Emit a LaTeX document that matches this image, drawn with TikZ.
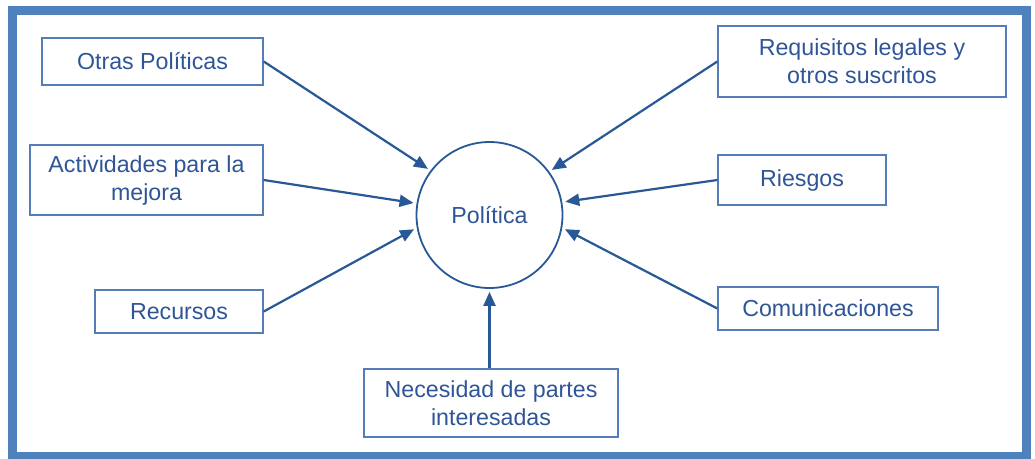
\documentclass[tikz,border=0pt]{standalone}
\usepackage{fontspec}
\setmainfont{Liberation Sans}
\usetikzlibrary{arrows.meta}
\definecolor{frameblue}{RGB}{79,129,189}
\definecolor{boxblue}{RGB}{84,124,182}
\definecolor{txtblue}{RGB}{47,85,151}
\definecolor{arrblue}{RGB}{40,88,150}
\tikzset{
  box/.style={draw=boxblue, line width=1.4pt, rectangle, inner sep=0pt, align=center,
    text=txtblue, font=\fontsize{23.2}{28}\selectfont},
  polnode/.style={draw=arrblue, line width=1.8pt, circle, minimum size=146pt, inner sep=0pt,
    text=txtblue, font=\fontsize{23.2}{28}\selectfont},
  conn/.style={draw=arrblue, line width=2.2pt, -{Triangle[length=14pt,width=12pt]}, shorten >=3pt}
}
\begin{document}
\begin{tikzpicture}[x=1pt,y=-1pt]
\useasboundingbox (0,0) rectangle (1035,458);
\draw[frameblue, line width=9pt] (12.5,10.5) rectangle (1026.5,456);
\node[polnode] (pol) at (489.5,215) {Política};
\node[box, minimum width=221pt, minimum height=47pt] (otras) at (152.5,61.5) {Otras Políticas};
\node[box, minimum width=233pt, minimum height=70pt] (act) at (146.5,180) {Actividades para la\\mejora};
\node[box, minimum width=168pt, minimum height=43pt] (rec) at (179,311.5) {Recursos};
\node[box, minimum width=288pt, minimum height=71pt] (req) at (862,61.5) {Requisitos legales y\\otros suscritos};
\node[box, minimum width=168pt, minimum height=50pt] (ries) at (802,180) {Riesgos};
\node[box, minimum width=220pt, minimum height=43pt] (com) at (828,308.5) {Comunicaciones};
\node[box, minimum width=254pt, minimum height=68pt] (nec) at (491,403) {Necesidad de partes\\interesadas};
\draw[conn] (otras.east) -- (pol.143);
\draw[conn] (act.east) -- (pol.171);
\draw[conn] (rec.east) -- (pol.190);
\draw[conn] (req.west) -- (pol.36);
\draw[conn] (ries.west) -- (pol.10);
\draw[conn] (com.west) -- (pol.350);
\draw[conn] (pol.south |- nec.north) -- (pol.south);
\end{tikzpicture}
\end{document}
